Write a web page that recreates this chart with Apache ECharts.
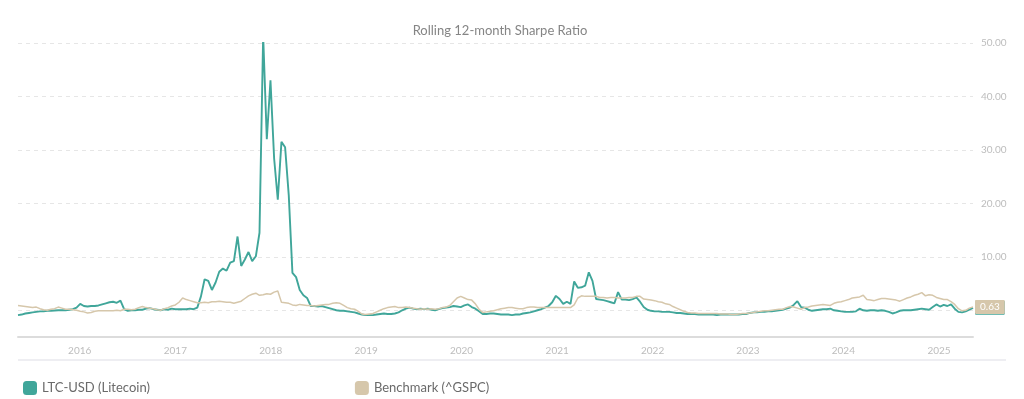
<!DOCTYPE html>
<html>
<head>
<meta charset="utf-8">
<script src="https://cdn.jsdelivr.net/npm/echarts@6/dist/echarts.min.js"></script>
<style>
  html, body { margin: 0; padding: 0; background: #fff; }
  #chart { width: 1024px; height: 399px; }
</style>
</head>
<body>
<div id="chart"></div>
<script>
// bi-weekly observations, first one on 2015-05-10
const startDate = '2015-05-10';
const stepDays = 14;

const ltcSharpe = [
  -0.9, -0.8, -0.6, -0.5, -0.4, -0.3, -0.2, -0.2, -0.1, -0.1,
  -0.05, 0.0, 0.0, 0.0, 0.1, 0.2, 0.5, 1.2, 0.8, 0.7,
  0.8, 0.8, 0.9, 1.1, 1.3, 1.5, 1.6, 1.4, 1.8, 0.2,
  -0.1, 0.0, 0.0, 0.1, 0.1, 0.3, 0.4, 0.2, 0.1, 0.0,
  0.2, 0.1, 0.3, 0.2, 0.2, 0.2, 0.2, 0.3, 0.2, 0.5,
  2.6, 5.8, 5.5, 3.8, 5.2, 7.2, 7.8, 7.4, 8.9, 9.2,
  13.8, 8.3, 9.5, 10.9, 9.2, 10.1, 14.5, 51.4, 32.0, 43.0,
  28.4, 20.7, 31.5, 30.5, 21.5, 7.0, 6.2, 3.8, 2.8, 2.3,
  0.8, 0.8, 0.7, 0.8, 0.6, 0.4, 0.2, 0.0, -0.1, -0.1,
  -0.2, -0.3, -0.4, -0.6, -0.8, -0.9, -0.9, -0.9, -0.8, -0.7,
  -0.6, -0.7, -0.7, -0.6, -0.4, 0.0, 0.3, 0.5, 0.3, 0.2,
  0.3, 0.2, 0.3, 0.1, 0.0, 0.2, 0.4, 0.5, 0.6, 0.8,
  0.7, 0.6, 0.9, 1.1, 0.6, 0.3, -0.2, -0.7, -0.7, -0.6,
  -0.6, -0.7, -0.8, -0.8, -0.8, -0.9, -0.8, -0.8, -0.6, -0.5,
  -0.4, -0.2, 0.0, 0.2, 0.5, 0.8, 1.5, 2.7, 2.1, 1.2,
  1.6, 1.2, 5.4, 4.2, 4.3, 4.6, 7.1, 5.5, 2.1, 2.0,
  1.9, 1.7, 1.5, 1.3, 3.4, 2.0, 2.0, 1.9, 2.1, 2.4,
  1.6, 0.6, 0.1, -0.1, -0.2, -0.2, -0.3, -0.3, -0.3, -0.4,
  -0.5, -0.5, -0.6, -0.7, -0.7, -0.7, -0.8, -0.8, -0.8, -0.8,
  -0.8, -0.9, -0.8, -0.8, -0.8, -0.8, -0.8, -0.8, -0.7, -0.7,
  -0.5, -0.4, -0.4, -0.3, -0.3, -0.2, -0.2, -0.1, 0.0, 0.1,
  0.3, 0.5, 1.0, 1.7, 0.6, 0.5, 0.1, -0.1, 0.0, 0.1,
  0.2, 0.2, 0.3, 0.0, -0.1, -0.2, -0.3, -0.3, -0.3, -0.2,
  0.3, 0.0, -0.1, 0.0, 0.0, -0.1, 0.0, -0.1, -0.3, -0.6,
  -0.4, -0.1, 0.0, 0.0, 0.0, 0.1, 0.2, 0.3, 0.2, 0.1,
  0.6, 1.1, 0.7, 1.0, 0.8, 1.1, 0.3, -0.3, -0.4, -0.2, 0.1, 0.45
];

const gspcSharpe = [
  0.9, 0.8, 0.7, 0.6, 0.5, 0.6, 0.3, 0.1, 0.0, 0.2,
  0.3, 0.6, 0.4, 0.2, 0.2, 0.1, 0.0, -0.2, -0.3, -0.5,
  -0.4, -0.2, -0.1, -0.1, -0.1, -0.1, -0.1, 0.0, -0.1, 0.2,
  0.2, 0.1, 0.2, 0.5, 0.7, 0.5, 0.4, 0.3, 0.1, 0.0,
  0.3, 0.5, 0.8, 1.0, 1.5, 2.3, 2.0, 1.8, 1.6, 1.4,
  1.4, 1.5, 1.4, 1.6, 1.6, 1.7, 1.6, 1.5, 1.5, 1.3,
  1.5, 1.7, 2.2, 2.7, 3.0, 3.2, 2.8, 2.9, 3.1, 3.0,
  3.4, 3.6, 1.5, 1.4, 1.3, 1.0, 0.9, 1.1, 1.0, 0.9,
  0.9, 0.8, 0.9, 1.0, 1.1, 1.1, 1.3, 1.4, 1.3, 0.9,
  0.5, 0.3, 0.2, -0.2, -0.7, -0.8, -0.7, -0.6, -0.3, 0.0,
  0.3, 0.5, 0.6, 0.7, 0.5, 0.5, 0.6, 0.5, 0.4, 0.3,
  0.2, 0.3, 0.2, 0.3, 0.2, 0.3, 0.5, 0.6, 0.9, 1.6,
  2.3, 2.6, 2.3, 2.0, 1.9, 1.2, 0.2, -0.4, -0.3, -0.2,
  -0.1, 0.1, 0.3, 0.4, 0.5, 0.5, 0.4, 0.3, 0.3, 0.5,
  0.6, 0.6, 0.5, 0.5, 0.5, 0.5, 0.5, 0.5, 0.5, 0.5,
  0.5, 0.5, 1.0, 2.3, 2.7, 2.6, 2.6, 2.6, 2.6, 2.4,
  2.4, 2.3, 2.4, 2.4, 2.3, 2.3, 2.3, 2.4, 2.4, 2.6,
  2.6, 2.1, 2.0, 1.9, 1.8, 1.6, 1.5, 1.2, 1.1, 0.7,
  0.4, 0.1, -0.2, -0.4, -0.5, -0.5, -0.6, -0.6, -0.6, -0.6,
  -0.6, -0.6, -0.7, -0.7, -0.7, -0.8, -0.8, -0.7, -0.6, -0.6,
  -0.5, -0.4, -0.3, -0.2, -0.1, -0.1, 0.0, 0.1, 0.2, 0.2,
  0.5, 0.7, 0.6, 0.4, 0.2, 0.5, 0.6, 0.8, 0.9, 1.0,
  1.1, 1.0, 0.9, 1.3, 1.5, 1.6, 1.8, 2.0, 2.3, 2.4,
  2.5, 2.8, 2.0, 1.9, 1.8, 2.0, 2.2, 2.2, 2.1, 2.0,
  1.9, 1.7, 2.0, 2.3, 2.5, 2.8, 3.0, 3.3, 2.7, 2.9,
  2.8, 2.4, 2.2, 2.0, 2.0, 1.6, 1.1, 0.3, -0.1, 0.0, 0.4, 0.63
];

const seriesNames = ['LTC-USD (Litecoin)', 'Benchmark (^GSPC)'];
const seriesColors = ['#40a69a', '#d6c7ab'];

const t0 = new Date(startDate + 'T00:00:00Z').getTime();
const dayMs = 24 * 3600 * 1000;
const toPairs = (vals) => vals.map((v, i) => [t0 + i * stepDays * dayMs, v]);

const chart = echarts.init(document.getElementById('chart'));
const font = 'Lato, "Open Sans", sans-serif';

const option = {
  animation: false,
  textStyle: { fontFamily: font },
  title: {
    text: 'Rolling 12-month Sharpe Ratio',
    left: 495,
    textAlign: 'center',
    top: 19,
    textStyle: { fontSize: 13, fontWeight: 'normal', color: '#858585', fontFamily: font }
  },
  grid: { left: 18, right: 51, top: 43, bottom: 62 },
  xAxis: {
    type: 'time',
    min: 'dataMin',
    max: 'dataMax',
    minInterval: 365 * dayMs,
    maxInterval: 366 * dayMs,
    axisLine: { onZero: false, lineStyle: { color: '#dcdcdc', width: 2 } },
    axisTick: { show: false },
    splitLine: { show: false },
    axisLabel: {
      color: '#bdbdbd',
      fontSize: 10,
      margin: 9,
      showMinLabel: false,
      showMaxLabel: false,
      formatter: '{yyyy}'
    }
  },
  yAxis: {
    type: 'value',
    position: 'right',
    min: -5,
    max: 50,
    splitNumber: 5,
    axisLine: { show: false },
    axisTick: { show: false },
    splitLine: { lineStyle: { color: '#e6e6e6', type: [4, 4] } },
    axisLabel: {
      color: '#bdbdbd',
      fontSize: 10,
      margin: 8,
      formatter: (v) => (v > 0 && v % 10 === 0 ? v.toFixed(2) : '')
    }
  },
  legend: {
    left: 18,
    top: 376,
    icon: 'roundRect',
    itemWidth: 14,
    itemHeight: 14,
    itemGap: 205,
    textStyle: { color: '#6a6a6a', fontSize: 13, fontFamily: font },
    data: seriesNames
  },
  graphic: [{
    type: 'rect',
    shape: { x: 18, y: 359, width: 988, height: 2 },
    style: { fill: '#eeeef2' },
    silent: true
  }],
  series: [ltcSharpe, gspcSharpe].map((vals, k) => ({
    name: seriesNames[k],
    type: 'line',
    data: toPairs(vals),
    showSymbol: false,
    color: seriesColors[k],
    z: 2 + k,
    lineStyle: { width: k === 0 ? 1.9 : 1.5, color: seriesColors[k] },
    endLabel: {
      show: true,
      distance: 2,
      formatter: (p) => p.value[1].toFixed(2),
      color: '#fff',
      fontSize: 10,
      backgroundColor: seriesColors[k],
      padding: [2, 5, 2, 5],
      borderRadius: 1
    }
  }))
};

chart.setOption(option);
</script>
</body>
</html>
